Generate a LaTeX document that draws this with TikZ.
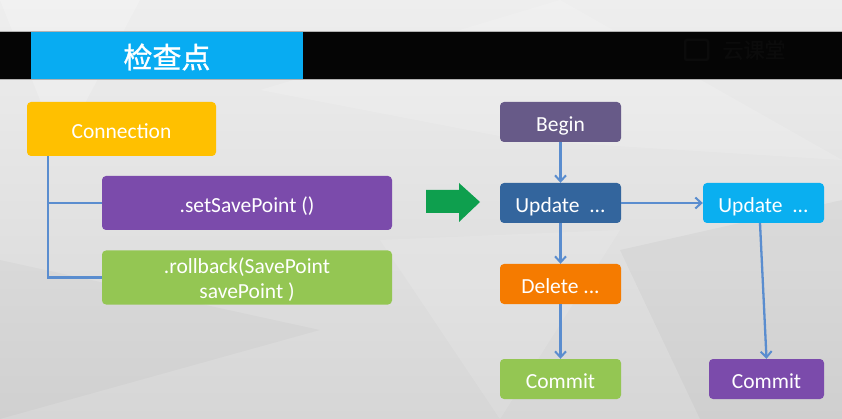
\documentclass[tikz,border=0pt]{standalone}
\usepackage{fontspec}
\setmainfont{Carlito}
\newfontfamily\cjk{Noto Sans CJK SC}[FakeBold=1.2]
\usetikzlibrary{arrows.meta,positioning}

\definecolor{bgtop}{HTML}{EEEEEE}
\definecolor{bgbot}{HTML}{D6D6D6}
\definecolor{band}{HTML}{050505}
\definecolor{faint}{HTML}{0B0B0B}
\definecolor{titleblue}{HTML}{08ACF2}
\definecolor{cyellow}{HTML}{FFC000}
\definecolor{cpurple}{HTML}{7B4BAB}
\definecolor{cgreen}{HTML}{94C653}
\definecolor{cgrape}{HTML}{675A88}
\definecolor{cnavy}{HTML}{33659D}
\definecolor{csky}{HTML}{0AAFF0}
\definecolor{corange}{HTML}{F57B00}
\definecolor{arrowgreen}{HTML}{0E9F4E}
\definecolor{link}{HTML}{5A8DCF}

\tikzset{
  box/.style={rounded corners=4pt, text=white, align=center,
    font=\fontsize{21.5}{25}\selectfont, inner sep=0pt,
    text height=18.5pt, text depth=0pt},
  wide/.style={box, minimum width=290pt, minimum height=54pt},
  small/.style={box, minimum width=121pt, minimum height=40pt},
  tree/.style={draw=link, line width=2.6pt},
  flow/.style={draw=link, line width=2.3pt,
    -{Straight Barb[length=6pt,width=11pt,line width=2pt]}},
}

\begin{document}
\begin{tikzpicture}[x=1pt,y=-1pt]
\useasboundingbox (0,0) rectangle (842,419);

% backdrop with faint facets
\shade[top color=bgtop, bottom color=bgbot] (0,0) rectangle (842,419);
\fill[white,opacity=0.2] (0,0) -- (140,0) -- (60,150) -- cycle;
\fill[white,opacity=0.14] (260,90) -- (560,0) -- (842,160) -- (520,140) -- cycle;
\fill[black,opacity=0.025] (0,260) -- (320,330) -- (0,419) -- cycle;
\fill[black,opacity=0.03] (620,250) -- (842,200) -- (842,419) -- (700,419) -- cycle;
\fill[white,opacity=0.12] (380,240) -- (620,230) -- (500,419) -- cycle;

% title band
\fill[band] (0,32) rectangle (842,80);
\draw[gray!60, line width=1pt] (0,32) -- (842,32) (0,80) -- (842,80);
\fill[titleblue] (31,32.5) rectangle (303,79.5);
\node[text=white, font=\cjk\fontsize{29}{31}\selectfont] (title) at (167,57) {检查点};

% dim logo on the band
\draw[faint, line width=2.5pt, rounded corners=2pt] (685,40) rectangle (708,60);
\node[text=faint, font=\cjk\fontsize{21}{23}\selectfont, anchor=west] (logo) at (719,50) {云课堂};

% Connection and its methods
\node[box, fill=cyellow, minimum width=189pt, minimum height=54pt] (conn) at (121.5,129) {Connection};
\node[wide, fill=cpurple] (setsp) at (247,203) {.setSavePoint ()};
\node[wide, fill=cgreen, text height=43pt, text depth=1.4pt] (rollb) at (247,277.5) {.rollback(SavePoint\\savePoint )};

\draw[tree] ([xshift=21pt]conn.south west) |- (rollb.west);
\draw[tree] ([xshift=21pt]conn.south west) |- (setsp.west);

% big green arrow
\fill[arrowgreen] (426,190) -- (459,190) -- (459,183) -- (480,202) -- (459,222) -- (459,213) -- (426,213) -- cycle;

% transaction flow
\node[small, fill=cgrape] (begin) at (560.5,122) {Begin};
\node[small, fill=cnavy] (upd1) at (560.5,203) {Update\ \ ...};
\node[small, fill=csky] (upd2) at (763.5,203) {Update\ \ ...};
\node[small, fill=corange] (del) at (560.5,284) {Delete ...};
\node[small, fill=cgreen] (commit1) at (560.5,379) {Commit};
\node[small, fill=cpurple, minimum width=115pt] (commit2) at (766.5,379) {Commit};

\draw[flow] (begin) -- (upd1);
\draw[flow] (upd1) -- (del);
\draw[flow] (del) -- (commit1);
\draw[flow] (upd1) -- (upd2);
\draw[flow] ([xshift=-3.5pt]upd2.south) -- (commit2.north);
\end{tikzpicture}
\end{document}
